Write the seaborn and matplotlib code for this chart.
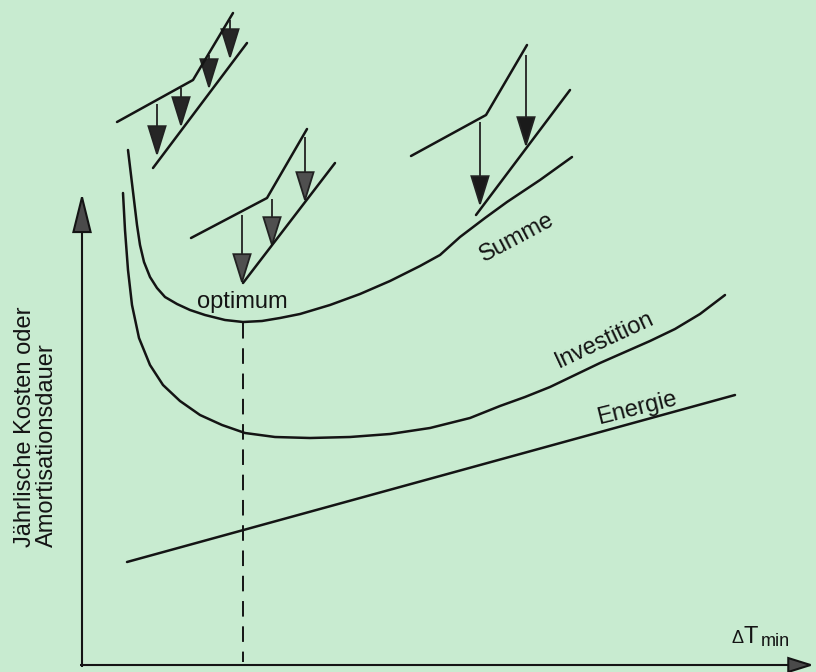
import matplotlib
matplotlib.use("Agg")
import matplotlib.pyplot as plt
import seaborn as sns
import pandas as pd
from matplotlib.patches import FancyArrowPatch

# --- DATA (pixel space of the original drawing, y grows downward) ---
summe_x = [128, 131, 134, 137, 140, 144, 150, 157, 165, 177, 190, 205, 225, 243, 262, 280,
           300, 330, 360, 390, 420, 440, 460, 485, 507, 540, 572]
summe_y = [150, 175, 200, 225, 245, 262, 277, 288, 297, 304, 310, 315, 320, 322, 321, 318,
           314, 305, 294, 281, 266, 255, 237, 218, 202, 180, 157]

invest_x = [123, 125, 128, 132, 139, 150, 163, 180, 200, 222, 245, 275, 310, 350, 390, 430,
            470, 500, 525, 550, 575, 600, 625, 650, 675, 700, 725]
invest_y = [193, 230, 270, 305, 338, 365, 385, 401, 415, 425, 433, 437, 438, 437, 434, 428,
            418, 406, 397, 387, 375, 363, 352, 341, 329, 314, 295]

energie_x = [127, 735]
energie_y = [562, 395]

opt_x = 243
opt_y = [323, 662]

# small sketches with arrows (upper kinked line, lower line, arrows)
sketch_upper = [
    ([117, 193, 233], [122, 80, 13]),
    ([191, 267, 307], [238, 198, 129]),
    ([411, 486, 527], [156, 115, 45]),
]
sketch_lower = [
    ([153, 247], [168, 43]),
    ([243, 335], [283, 163]),
    ([476, 570], [215, 90]),
]
arrow_x = [[157, 181, 209, 230], [242, 272, 305], [480, 526]]
arrow_y0 = [[104, 88, 55, 20], [215, 199, 137], [122, 55]]
arrow_y1 = [[157, 128, 90, 60], [285, 248, 203], [207, 148]]
arrow_head = ["#262626", "#4f4f4f", "#1a1a1a"]

BG = "#c8ebd0"
INK = "#141414"

sns.set_style("white")
plt.rcParams["font.family"] = ["Liberation Sans", "DejaVu Sans"]

fig = plt.figure(figsize=(8.16, 6.72), dpi=100)
fig.patch.set_facecolor(BG)
ax = fig.add_axes([0, 0, 1, 1])
ax.set_facecolor(BG)
ax.set_xlim(0, 816)
ax.set_ylim(672, 0)
ax.axis("off")


def curve(xs, ys, lw=1.8):
    df = pd.DataFrame({"x": xs, "y": ys})
    sns.lineplot(data=df, x="x", y="y", ax=ax, sort=False, estimator=None,
                 color=INK, linewidth=lw)


def arrow(x0, y0, x1, y1, hl, hw, face, lw=1.4, edge=INK):
    a = FancyArrowPatch((x0, y0), (x1, y1),
                        arrowstyle=f"-|>,head_length={hl},head_width={hw}",
                        mutation_scale=10, shrinkA=0, shrinkB=0,
                        linewidth=lw, edgecolor=edge, facecolor=face,
                        joinstyle="miter", capstyle="butt")
    ax.add_patch(a)


# main curves
curve(summe_x, summe_y)
curve(invest_x, invest_y)
curve(energie_x, energie_y)

# optimum dashed line
ax.plot([opt_x, opt_x], opt_y, color=INK, lw=1.4, dashes=(8, 5))

# axes with arrows
arrow(82, 667, 82, 193, 2.5, 0.62, "#4a4a4a", lw=1.5)
arrow(80, 665, 814, 665, 1.6, 0.5, "#4a4a4a", lw=1.5)

# the three little sketches
for (ux, uy), (lx, ly), xs, y0s, y1s, hc in zip(sketch_upper, sketch_lower,
                                                 arrow_x, arrow_y0, arrow_y1, arrow_head):
    curve(ux, uy, lw=1.8)
    curve(lx, ly, lw=1.8)
    for x, a0, a1 in zip(xs, y0s, y1s):
        arrow(x, a0, x, a1, 2.0, 0.62, hc, lw=1.3, edge="#222222")

# labels
ax.text(242, 308, "optimum", fontsize=17, ha="center", va="baseline", color=INK)
ax.text(517, 238, "Summe", fontsize=17, ha="center", va="center",
        rotation=28, rotation_mode="anchor", color=INK)
ax.text(605, 340, "Investition", fontsize=17, ha="center", va="center",
        rotation=25, rotation_mode="anchor", color=INK)
ax.text(637, 408, "Energie", fontsize=17, ha="center", va="center",
        rotation=14, rotation_mode="anchor", color=INK)

ax.text(36, 427, "Jährlische Kosten oder\nAmortisationsdauer", fontsize=17,
        rotation=90, ha="center", va="center", linespacing=1.0,
        multialignment="left", color=INK)

ax.text(731, 643, "Δ", fontsize=13, ha="left", va="baseline", color=INK)
ax.text(744, 643, "T", fontsize=17, ha="left", va="baseline", color=INK)
ax.text(761, 646, "min", fontsize=13, ha="left", va="baseline", color=INK)

plt.savefig("out.png", dpi=100, facecolor=BG)
plt.close()
